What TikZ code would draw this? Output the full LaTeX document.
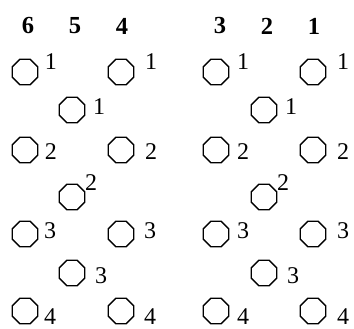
\documentclass[tikz,border=0pt]{standalone}
\usepackage{fontspec}
\setmainfont{Liberation Serif}
\usetikzlibrary{shapes.geometric}

\begin{document}
\begin{tikzpicture}[x=1pt,y=-1pt,
oct/.style={draw,regular polygon,regular polygon sides=8,minimum size=27.5pt,inner sep=0pt,line width=1.4pt},
lbl/.style={inner sep=0pt,font=\fontsize{24}{28}\selectfont},
head/.style={inner sep=0pt,font=\fontsize{24.5}{28}\selectfont\bfseries}]
\useasboundingbox (0,0) rectangle (354,329);

% headers
\node[head] (h6) at (28,26) {6};
\node[head] (h5) at (75,26) {5};
\node[head] (h4) at (122,26) {4};
\node[head] (h3) at (220,26) {3};
\node[head] (h2) at (267,26) {2};
\node[head] (h1) at (314,26) {1};

% left half
\node[oct] (L1a) at (25,72) {};
\node[oct] (L1b) at (121,72) {};
\node[oct] (L2) at (72,110) {};
\node[oct] (L3a) at (25,150) {};
\node[oct] (L3b) at (121,150) {};
\node[oct] (L4) at (72,197) {};
\node[oct] (L5a) at (25,234) {};
\node[oct] (L5b) at (121,234) {};
\node[oct] (L6) at (72,273) {};
\node[oct] (L7a) at (25,311) {};
\node[oct] (L7b) at (121,311) {};

\node[lbl] (nL1a) at (51,62) {1};
\node[lbl] (nL1b) at (151,62) {1};
\node[lbl] (nL2) at (99,107) {1};
\node[lbl] (nL3a) at (51,152) {2};
\node[lbl] (nL3b) at (151,152) {2};
\node[lbl] (nL4) at (91,183) {2};
\node[lbl] (nL5a) at (50,231) {3};
\node[lbl] (nL5b) at (150,231) {3};
\node[lbl] (nL6) at (101,276) {3};
\node[lbl] (nL7a) at (50,317) {4};
\node[lbl] (nL7b) at (150,317) {4};

% right half
\node[oct] (R1a) at (216,72) {};
\node[oct] (R1b) at (313,72) {};
\node[oct] (R2) at (264,110) {};
\node[oct] (R3a) at (216,150) {};
\node[oct] (R3b) at (313,150) {};
\node[oct] (R4) at (264,197) {};
\node[oct] (R5a) at (216,234) {};
\node[oct] (R5b) at (313,234) {};
\node[oct] (R6) at (264,273) {};
\node[oct] (R7a) at (216,311) {};
\node[oct] (R7b) at (313,311) {};

\node[lbl] (nR1a) at (243,62) {1};
\node[lbl] (nR1b) at (343,62) {1};
\node[lbl] (nR2) at (291,107) {1};
\node[lbl] (nR3a) at (243,152) {2};
\node[lbl] (nR3b) at (343,152) {2};
\node[lbl] (nR4) at (283,183) {2};
\node[lbl] (nR5a) at (243,231) {3};
\node[lbl] (nR5b) at (343,231) {3};
\node[lbl] (nR6) at (293,276) {3};
\node[lbl] (nR7a) at (243,317) {4};
\node[lbl] (nR7b) at (343,317) {4};
\end{tikzpicture}
\end{document}
